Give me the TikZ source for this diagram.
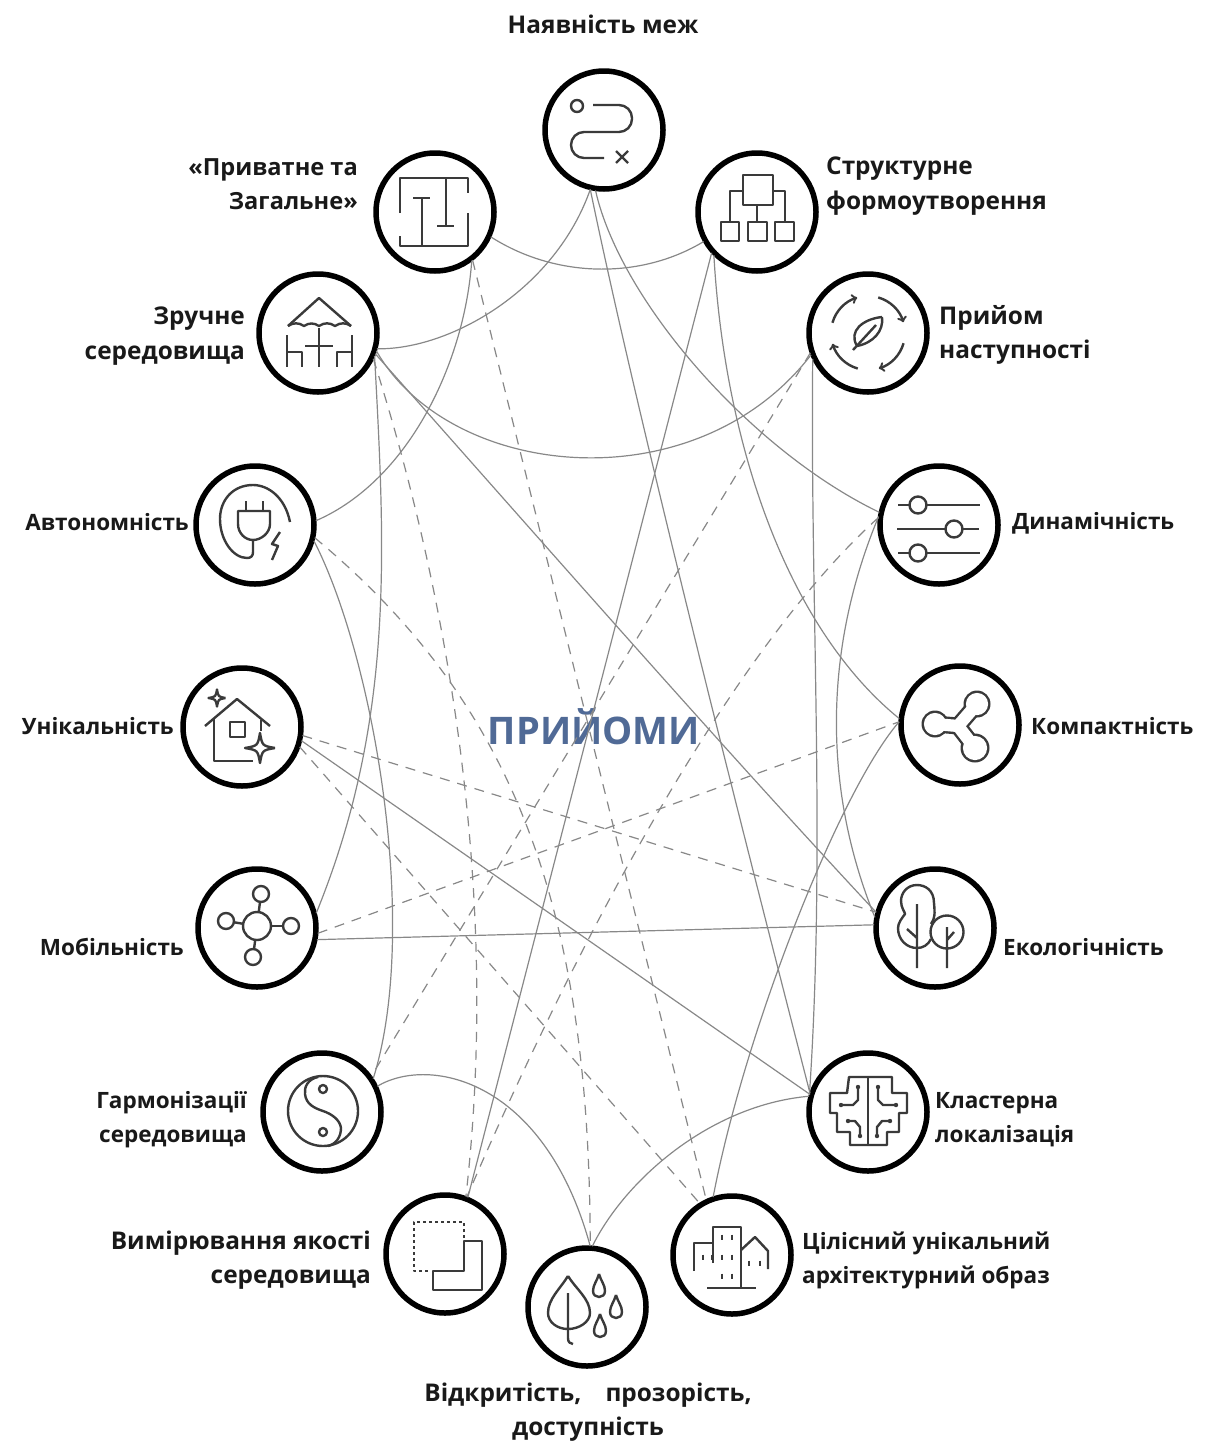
\documentclass[tikz,border=0pt]{standalone}
\usepackage{fontspec}
\setmainfont{Open Sans}
\definecolor{link_gray}{HTML}{888888}
\definecolor{icon_gray}{HTML}{3A3A3A}
\definecolor{title_blue}{HTML}{506A96}
\tikzset{
  ring_/.style    = {shape=circle, draw=black, line width=5.5pt, minimum size=118pt, inner sep=0pt, outer sep=2pt},
  text_/.style    = {inner sep=0pt, font=\fontsize{22.5}{34}\selectfont\bfseries, text=black!90},
  big_/.style     = {font=\fontsize{24.4}{34.5}\selectfont\bfseries},
  left_/.style    = {text_, anchor=east, align=right},
  right_/.style   = {text_, anchor=west, align=left},
  link_/.style    = {draw=link_gray, line width=1.2pt},
  dash_/.style    = {link_, dash pattern=on 10pt off 8pt},
  icon_/.style    = {draw=icon_gray, line width=2.4pt, line join=round},
  sparkle_/.pic   = {\draw (1,0) .. controls (.15,.15) .. (0,1) .. controls (-.15,.15) .. (-1,0)
                       .. controls (-.15,-.15) .. (0,-1) .. controls (.15,-.15) .. (1,0);},
  drop_/.pic      = {\draw (0,-13) .. controls (-2,-6) and (-6,-2) .. (-6,4) .. controls (-6,8) and (-3,10) .. (0,10)
                       .. controls (3,10) and (6,8) .. (6,4) .. controls (6,-2) and (2,-6) .. (0,-13);}
}
\begin{document}
\begin{tikzpicture}[x=1pt, y=-1pt]
  \useasboundingbox (0,0) rectangle (1223,1443);

  \node [ring_] (mezhi) at (604,130) {};
  \node [ring_] (pryvat) at (435,212) {};
  \node [ring_] (struct) at (757,212) {};
  \node [ring_] (zruchn) at (318,333) {};
  \node [ring_] (nastup) at (868,333) {};
  \node [ring_] (avton) at (255,525) {};
  \node [ring_] (dynam) at (939,525) {};
  \node [ring_] (unik) at (242,727) {};
  \node [ring_] (kompakt) at (960,725) {};
  \node [ring_] (mobil) at (257,928) {};
  \node [ring_] (ekolog) at (935,928) {};
  \node [ring_] (garmon) at (322,1112) {};
  \node [ring_] (klast) at (868,1112) {};
  \node [ring_] (vymir) at (445,1254) {};
  \node [ring_] (obraz) at (732,1255) {};
  \node [ring_] (vidkr) at (587,1307) {};

  \node [text_, big_] (mezhi_t) at (603,24) {Наявність меж};
  \node [left_, font=\fontsize{23.6}{34}\selectfont\bfseries] (pryvat_t) at (358,184) {«Приватне та\\Загальне»};
  \node [right_, big_] (struct_t) at (826,186) {Структурне\\формоутворення};
  \node [left_, big_] (zruchn_t) at (245,336) {Зручне\\середовища};
  \node [right_, big_] (nastup_t) at (939,335) {Прийом\\наступності};
  \node [left_] (avton_t) at (189,522) {Автономність};
  \node [right_] (dynam_t) at (1012,523) {Динамічність};
  \node [left_] (unik_t) at (174,726) {Унікальність};
  \node [right_] (kompakt_t) at (1031,726) {Компактність};
  \node [left_] (mobil_t) at (184,947) {Мобільність};
  \node [right_] (ekolog_t) at (1003,947) {Екологічність};
  \node [left_] (garmon_t) at (247,1120) {Гармонізації\\середовища};
  \node [right_] (klast_t) at (935,1120) {Кластерна\\локалізація};
  \node [left_, big_] (vymir_t) at (371,1260) {Вимірювання якості\\середовища};
  \node [right_] (obraz_t) at (802,1260) {Цілісний унікальний\\архітектурний образ};
  \node [text_, big_, align=center] (vidkr_t) at (588,1412) {Відкритість,\hspace{24pt}прозорість,\\доступність};
  \node [inner sep=0pt, text=title_blue, font=\fontsize{38}{40}\selectfont\bfseries] (title) at (594,727) {ПРИЙОМИ};

  \draw [link_] (pryvat.-24) .. controls (555,278) and (640,280) .. (struct.209);
  \draw [link_] (zruchn.-15) .. controls (450,350) and (555,290) .. (mezhi.-103);
  \draw [link_] (zruchn.-17) .. controls (450,480) and (695,505) .. (nastup.-159);
  \draw [link_] (zruchn.-20) .. controls (545,545) and (720,745) .. (ekolog.165);
  \draw [link_] (mezhi.-98) .. controls (620,300) and (750,450) .. (dynam.168);
  \draw [link_] (mezhi.-103) .. controls (640,430) and (750,860) .. (klast.162);
  \draw [link_] (struct.-138) -- (vymir.68);
  \draw [link_] (struct.-135) .. controls (725,450) and (790,630) .. (kompakt.174);
  \draw [link_] (nastup.-155) .. controls (810,600) and (826,850) .. (klast.164);
  \draw [link_] (dynam.172) .. controls (823,650) and (823,790) .. (ekolog.170);
  \draw [link_] (pryvat.-53) .. controls (465,360) and (410,480) .. (avton.4);
  \draw [link_] (zruchn.-22) .. controls (385,550) and (395,720) .. (mobil.14);
  \draw [link_] (avton.-15) .. controls (375,660) and (420,930) .. (garmon.33);
  \draw [link_] (unik.-13) -- (klast.163);
  \draw [link_] (mobil.-11) -- (ekolog.177);
  \draw [link_] (garmon.25) .. controls (430,1055) and (545,1080) .. (vidkr.87);
  \draw [link_] (vidkr.85) .. controls (625,1180) and (710,1105) .. (klast.165);
  \draw [link_] (kompakt.177) .. controls (840,790) and (745,1030) .. (obraz.108);

  \draw [dash_] (pryvat.-52) -- (obraz.115);
  \draw [dash_] (zruchn.-25) .. controls (450,600) and (500,900) .. (vymir.70);
  \draw [dash_] (avton.-12) .. controls (510,700) and (590,900) .. (vidkr.87);
  \draw [dash_] (unik.-19) -- (obraz.122);
  \draw [dash_] (unik.-8) -- (ekolog.165);
  \draw [dash_] (mobil.-5) -- (kompakt.177);
  \draw [dash_] (dynam.173) .. controls (720,660) and (560,980) .. (vymir.69);
  \draw [dash_] (nastup.-161) -- (garmon.36);

  \begin{scope}[shift={(mezhi)}, icon_]
    \draw (-27,-24) circle (6);
    \draw [rounded corners=13pt] (-11,-25) -- (28,-25) -- (28,2) -- (-33,2) -- (-33,28) -- (0,28);
    \draw (12,21) -- (24,33) (24,21) -- (12,33);
  \end{scope}

  \begin{scope}[shift={(pryvat)}, icon_]
    \draw (-35,1) -- (-35,-34) -- (33,-34) -- (33,-19);
    \draw (-35,24) -- (-35,34) -- (33,34) -- (33,1);
    \draw (-22,-14) -- (-5,-14) (-13,-14) -- (-13,34);
    \draw (11,-34) -- (11,14) (2,14) -- (19,14);
  \end{scope}

  \begin{scope}[shift={(zruchn)}, icon_]
    \draw (-30,-7) -- (1,-35) -- (33,-7);
    \draw (-30,-7) to[bend left=35] (-14,-7) to[bend left=35] (1,-7) to[bend left=35] (17,-7) to[bend left=35] (33,-7);
    \draw (1,-5) -- (1,34) (-13,13) -- (15,13);
    \draw (-31,2) -- (-31,34) (-31,19) -- (-16,19) -- (-16,34);
    \draw (34,2) -- (34,34) (34,19) -- (19,19) -- (19,34);
  \end{scope}

  \begin{scope}[shift={(struct)}, icon_]
    \draw (-14,-37) rectangle (16,-7);
    \draw (-14,-21) -- (-27,-21) -- (-27,10) (16,-21) -- (28,-21) -- (28,10) (0,-7) -- (0,10);
    \draw (-36,10) rectangle (-18,29) (-9,10) rectangle (10,29) (18,10) rectangle (37,29);
  \end{scope}

  \begin{scope}[shift={(nastup)}, icon_]
    \foreach \a in {0,90,180,270}
      \draw [-to] (196+\a:37) arc (196+\a:253+\a:37);
    \draw (14,-16) .. controls (-5,-14) and (-20,-2) .. (-11,13) .. controls (5,10) and (16,-2) .. (14,-16);
    \draw (-15,17) -- (8,-8);
  \end{scope}

  \begin{scope}[shift={(avton)}, icon_]
    \draw (35,-3) .. controls (30,-28) and (13,-40) .. (-2,-40) .. controls (-22,-40) and (-35,-25) .. (-35,-6)
      .. controls (-35,15) and (-22,33) .. (-8,33) .. controls (-4,33) and (-2,31) .. (-2,27) -- (-2,15);
    \draw (-17,-14) -- (15,-14) -- (15,-1) .. controls (15,8) and (6,15) .. (-2,15) .. controls (-10,15) and (-17,8) .. (-17,-1) -- cycle;
    \draw (-9,-24) -- (-9,-14) (8,-24) -- (8,-14);
    \draw (25,7) -- (17,19) -- (23,21) -- (17,35);
  \end{scope}

  \begin{scope}[shift={(dynam)}, icon_]
    \draw (-41,-20) -- (41,-20) (-42,4) -- (40,4) (-41,28) -- (41,28);
    \draw [fill=white] (-21,-20) circle (8.5) (15,4) circle (8.5) (-21,28) circle (8.5);
  \end{scope}

  \begin{scope}[shift={(unik)}, icon_]
    \draw (-37,-1) -- (-5,-28) -- (28,-1);
    \draw (-28,-8) -- (-28,34) -- (11,34) (19,-7) -- (19,4);
    \draw (-12,-5) rectangle (3,10);
    \pic [scale=15] at (18,21) {sparkle_};
    \pic [scale=8.5] at (-25,-29) {sparkle_};
  \end{scope}

  \begin{scope}[shift={(kompakt)}]
    \foreach \x/\y/\r in {-25/-1/13.5, 17/-21/13.5, 15/23/14.5} {
      \fill [icon_gray] (\x,\y) circle (\r);
      \draw [icon_gray, line width=17pt] (-2,1) -- (\x,\y);
    }
    \foreach \x/\y/\r in {-25/-1/13.5, 17/-21/13.5, 15/23/14.5} {
      \fill [white] (\x,\y) circle (\r-2.4);
      \draw [white, line width=12.2pt] (-2,1) -- (\x,\y);
    }
  \end{scope}

  \begin{scope}[shift={(mobil)}, icon_]
    \foreach \x/\y in {4/-34, -31/-7, 34/-2, -4/29}
      \draw (0,-2) -- (\x,\y);
    \foreach \x/\y in {4/-34, -31/-7, 34/-2, -4/29}
      \draw [fill=white] (\x,\y) circle (8);
    \draw [fill=white] (0,-2) circle (14);
  \end{scope}

  \begin{scope}[shift={(ekolog)}, icon_]
    \draw (-4,-4) .. controls (0,-10) and (0,-14) .. (-1,-25) .. controls (-1,-38) and (-10,-43) .. (-18,-43)
      .. controls (-28,-43) and (-34,-35) .. (-34,-27) .. controls (-34,-20) and (-30,-16) .. (-30,-14)
      .. controls (-33,-10) and (-37,-5) .. (-37,0) .. controls (-37,12) and (-28,20) .. (-18,20)
      .. controls (-12,20) and (-7,17) .. (-4,11);
    \draw (-18,-24) -- (-18,40) (-28,1) -- (-18,10);
    \draw (12,4) circle (16.5);
    \draw (12,-1) -- (12,40) (19,4) -- (12,12);
  \end{scope}

  \begin{scope}[shift={(garmon)}, icon_]
    \draw (1,-1) circle (35);
    \draw (-4,-35) .. controls (-14,-33) and (-18,-25) .. (-17,-18) .. controls (-16,-8) and (-8,-4) .. (1,-1)
      .. controls (10,2) and (18,8) .. (19,16) .. controls (19,25) and (14,32) .. (6,34);
    \draw (1,-23) circle (4) (1,20) circle (4);
  \end{scope}

  \begin{scope}[shift={(klast)}, icon_]
    \draw (-19,-35) -- (24,-35) -- (24,-19) -- (39,-19) -- (39,1) -- (31,1) -- (31,20) -- (19,20) -- (19,33)
      -- (-18,33) -- (-18,20) -- (-31,20) -- (-31,1) -- (-38,1) -- (-38,-19) -- (-21,-19) -- cycle;
    \draw (0,-35) -- (0,33);
    \draw (-10,-25) -- (-10,-12) -- (-15,-7) -- (-27,-7);
    \draw (-20,9) -- (-13,9) -- (-8,15) -- (-8,24);
    \draw (10,-25) -- (10,-12) -- (15,-7) -- (28,-7);
    \draw (22,9) -- (14,9) -- (9,15) -- (9,24);
    \foreach \x/\y in {-10/-25, -27/-7, -20/9, -8/24, 10/-25, 28/-7, 22/9, 9/24}
      \fill [icon_gray] (\x,\y) circle (2.2);
  \end{scope}

  \begin{scope}[shift={(vymir)}, icon_]
    \draw [dash pattern=on 3pt off 3pt, line width=2.6pt] (19,-16) -- (19,-32) -- (-31,-32) -- (-31,17) -- (-15,17);
    \draw (19,-13) -- (37,-13) -- (37,36) -- (-12,36) -- (-12,17) -- (19,17) -- cycle;
  \end{scope}

  \begin{scope}[shift={(obraz)}, icon_]
    \draw (-19,8) -- (-19,-28) -- (9,-28) -- (9,33);
    \draw (-38,16) -- (-38,-12) -- (-19,-12);
    \draw (9,-5) -- (23,-18) -- (36,-4) -- (36,14);
    \draw (-25,33) -- (24,33);
    \foreach \x/\y in {-10/-18, 0/-18, -10/2, 0/2, -10/21, 0/21, -29/2, -20/2, 17/8, 28/8}
      \draw (\x,\y-2.5) -- (\x,\y+2.5);
  \end{scope}

  \begin{scope}[shift={(vidkr)}, icon_]
    \draw (-19,-31) .. controls (-27,-18) and (-39,-8) .. (-39,6) .. controls (-39,15) and (-30,22) .. (-19,22)
      .. controls (-8,22) and (3,15) .. (3,6) .. controls (3,-8) and (-11,-18) .. (-19,-31);
    \draw (-19,-14) -- (-19,31) .. controls (-19,35) and (-17,37) .. (-14,37);
    \pic at (12,-20) {drop_};
    \pic at (29,1) {drop_};
    \pic at (13,20) {drop_};
  \end{scope}
\end{tikzpicture}
\end{document}
